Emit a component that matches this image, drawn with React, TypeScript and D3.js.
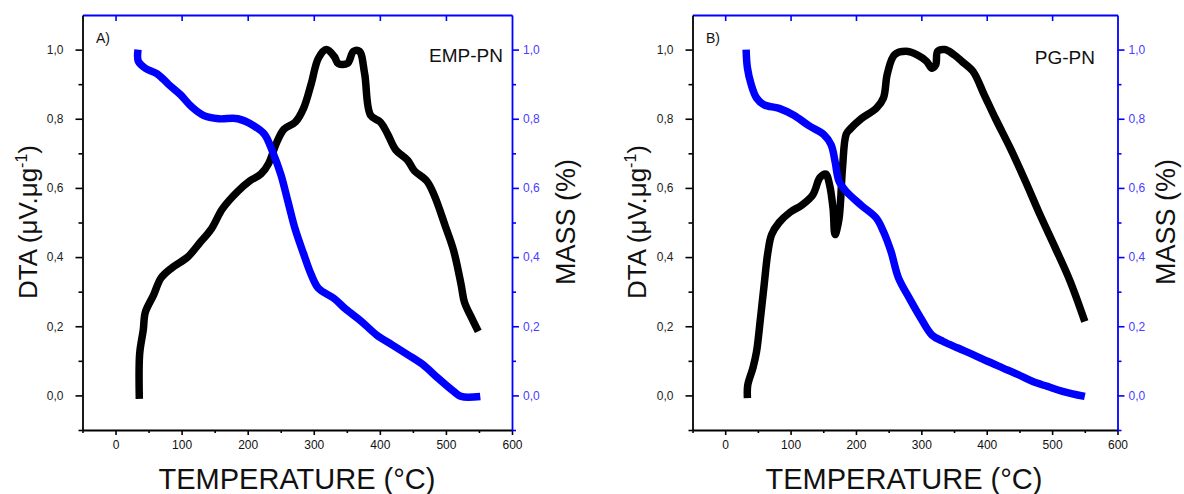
import React, { useRef, useEffect } from 'react';
import * as d3 from 'd3';

// Panel A (EMP-PN)
const tempDtaA = [36, 36.5, 42, 45, 57.5, 69, 86, 109, 127, 144.5, 162, 185, 203, 220, 231.5, 243.6, 255, 272, 284.5, 296, 307, 319, 331, 337, 351, 360, 369, 377, 386, 401, 412, 424, 442, 452, 471, 482, 499, 511.5, 523, 528, 540, 549];
const dtaA = [-0.01, 0.12, 0.19, 0.24, 0.29, 0.34, 0.37, 0.4, 0.44, 0.48, 0.54, 0.59, 0.62, 0.64, 0.67, 0.73, 0.77, 0.79, 0.83, 0.9, 0.975, 1.0, 0.98, 0.96, 0.96, 0.995, 0.995, 0.93, 0.81, 0.79, 0.755, 0.71, 0.68, 0.65, 0.62, 0.58, 0.49, 0.42, 0.32, 0.27, 0.22, 0.185];
const tempMassA = [34, 34.5, 45, 63, 80, 98, 115, 133, 156, 185, 209, 225.5, 237.6, 250, 261, 272, 284.5, 296, 307, 331, 348, 371.5, 395, 418, 442, 464.6, 488, 511.5, 523, 552];
const massA = [1.0, 0.966, 0.946, 0.93, 0.9, 0.87, 0.835, 0.81, 0.8, 0.8, 0.78, 0.755, 0.705, 0.64, 0.56, 0.48, 0.41, 0.35, 0.31, 0.28, 0.25, 0.215, 0.175, 0.147, 0.118, 0.09, 0.05, 0.012, -0.003, -0.003];

// Panel B (PG-PN)
const tempDtaB = [34, 34.5, 42.5, 48, 54, 59.6, 65, 71, 82.5, 99.5, 117, 134, 145, 154, 159.5, 165, 168, 174, 179.5, 185, 191, 208, 231, 242, 248, 259, 276.5, 293.6, 308, 316, 322, 325, 336, 350, 362, 379, 396, 413.5, 436, 459, 482, 505, 527.6, 550];
const dtaB = [-0.008, 0.03, 0.08, 0.127, 0.224, 0.32, 0.41, 0.465, 0.5, 0.53, 0.55, 0.58, 0.63, 0.64, 0.61, 0.54, 0.465, 0.51, 0.66, 0.755, 0.77, 0.8, 0.83, 0.86, 0.93, 0.985, 0.995, 0.985, 0.966, 0.946, 0.956, 0.995, 1.0, 0.985, 0.966, 0.937, 0.87, 0.8, 0.715, 0.62, 0.52, 0.426, 0.33, 0.214];
const tempMassB = [32, 34, 39.6, 48, 59.6, 82.5, 105, 128, 151, 162, 168, 174, 185, 208, 231, 242, 253.6, 265, 282, 299, 316, 333.5, 356, 379, 402, 425, 448, 470.5, 493, 516, 550];
const massB = [1.0, 0.947, 0.9, 0.86, 0.84, 0.83, 0.81, 0.78, 0.754, 0.725, 0.677, 0.62, 0.59, 0.55, 0.513, 0.474, 0.416, 0.34, 0.28, 0.224, 0.175, 0.156, 0.137, 0.118, 0.098, 0.079, 0.06, 0.04, 0.026, 0.012, -0.003];

const xMajor = [0, 100, 200, 300, 400, 500, 600];
const xMinor = [-50, 50, 150, 250, 350, 450, 550];
const yMajor = [0, 0.2, 0.4, 0.6, 0.8, 1.0];
const yMinor = [-0.1, 0.1, 0.3, 0.5, 0.7, 0.9];

const panels = [
  { tag: 'A)', name: 'EMP-PN', tD: tempDtaA, d: dtaA, tM: tempMassA, m: massA,
    left: 82.5, right: 512, tagX: 96, nameX: 503, nameY: 62, dtaX: 37, massX: 575, titleX: 297 },
  { tag: 'B)', name: 'PG-PN', tD: tempDtaB, d: dtaB, tM: tempMassB, m: massB,
    left: 692.5, right: 1117.5, tagX: 706, nameX: 1095, nameY: 64, dtaX: 646, massX: 1175, titleX: 904 },
];

const FONT = '"Liberation Sans", Arial, sans-serif';
const BLUE = '#0000ff';
const fmt = (v: number) => d3.format('.1f')(v).replace('.', ',');

const App = () => {
  const svgRef = useRef<SVGSVGElement>(null);

  useEffect(() => {
    const svg = d3.select(svgRef.current);
    svg.selectAll('*').remove();
    const top = 15;
    const bottom = 430;

    panels.forEach(p => {
      const x = d3.scaleLinear().domain([-50, 600]).range([p.left, p.right]);
      const y = d3.scaleLinear().domain([-0.1, 1.1]).range([bottom, top]);
      const g = svg.append('g');

      const styleAxis = (sel: any, color: string, labelColor: string) => {
        sel.select('.domain').attr('stroke', color).attr('stroke-width', 1.8);
        sel.selectAll('line').attr('stroke', color).attr('stroke-width', 1.6);
        sel.selectAll('text').attr('fill', labelColor).attr('font-family', FONT).attr('font-size', 12);
      };

      // bottom
      const xb = g.append('g').attr('transform', `translate(0,${bottom})`)
        .call(d3.axisBottom(x).tickValues(xMajor).tickSize(5).tickPadding(5).tickSizeOuter(0).tickFormat(d3.format('d')));
      styleAxis(xb, '#000', '#111');
      const xbm = g.append('g').attr('transform', `translate(0,${bottom})`)
        .call(d3.axisBottom(x).tickValues(xMinor).tickSize(3).tickFormat(() => ''));
      xbm.select('.domain').remove();
      styleAxis(xbm, '#000', '#111');

      // top
      const xt = g.append('g').attr('transform', `translate(0,${top})`)
        .call(d3.axisTop(x).tickValues(xMajor.slice(0, 6)).tickSize(-6).tickSizeOuter(0).tickFormat(() => ''));
      styleAxis(xt, BLUE, BLUE);

      // left
      const yl = g.append('g').attr('transform', `translate(${p.left},0)`)
        .call(d3.axisLeft(y).tickValues(yMajor).tickSize(7).tickPadding(12).tickSizeOuter(0).tickFormat(fmt as any));
      styleAxis(yl, '#000', '#222');
      const ylm = g.append('g').attr('transform', `translate(${p.left},0)`)
        .call(d3.axisLeft(y).tickValues(yMinor).tickSize(4).tickFormat(() => ''));
      ylm.select('.domain').remove();
      styleAxis(ylm, '#000', '#222');

      // right
      const yr = g.append('g').attr('transform', `translate(${p.right},0)`)
        .call(d3.axisRight(y).tickValues(yMajor).tickSize(7).tickPadding(4).tickSizeOuter(0).tickFormat(fmt as any));
      styleAxis(yr, BLUE, '#4a3cff');
      const yrm = g.append('g').attr('transform', `translate(${p.right},0)`)
        .call(d3.axisRight(y).tickValues(yMinor).tickSize(4).tickFormat(() => ''));
      yrm.select('.domain').remove();
      styleAxis(yrm, BLUE, BLUE);

      // curves
      const line = d3.line<[number, number]>().x(d => x(d[0])).y(d => y(d[1]))
        .curve(d3.curveCatmullRom.alpha(0.5));
      g.append('path')
        .attr('d', line(p.tD.map((t, i) => [t, p.d[i]] as [number, number])))
        .attr('fill', 'none').attr('stroke', '#000').attr('stroke-width', 7.5)
        .attr('stroke-linejoin', 'round');
      g.append('path')
        .attr('d', line(p.tM.map((t, i) => [t, p.m[i]] as [number, number])))
        .attr('fill', 'none').attr('stroke', BLUE).attr('stroke-width', 7.5)
        .attr('stroke-linejoin', 'round');

      // annotations
      g.append('text').attr('x', p.tagX).attr('y', 43).attr('font-family', FONT)
        .attr('font-size', 14).attr('fill', '#111').text(p.tag);
      g.append('text').attr('x', p.nameX).attr('y', p.nameY).attr('text-anchor', 'end')
        .attr('font-family', FONT).attr('font-size', 19).attr('fill', '#111').text(p.name);

      // axis titles
      g.append('text').attr('x', p.titleX).attr('y', 489).attr('text-anchor', 'middle')
        .attr('font-family', FONT).attr('font-size', 29).attr('fill', '#111').text('TEMPERATURE (°C)');

      const dt = g.append('text').attr('transform', `translate(${p.dtaX},222) rotate(-90)`)
        .attr('text-anchor', 'middle').attr('font-family', FONT).attr('font-size', 26).attr('fill', '#111');
      dt.append('tspan').text('DTA (μV.μg');
      dt.append('tspan').attr('font-size', 16).attr('dy', -10).text('-1');
      dt.append('tspan').attr('dy', 10).text(')');

      g.append('text').attr('transform', `translate(${p.massX},222) rotate(-90)`)
        .attr('text-anchor', 'middle').attr('font-family', FONT).attr('font-size', 27)
        .attr('fill', '#111').text('MASS (%)');
    });
  }, []);

  return (
    <svg ref={svgRef} width={1184} height={494}
      style={{ position: 'absolute', left: 0, top: 0, background: '#fff' }} />
  );
};

export default App;
